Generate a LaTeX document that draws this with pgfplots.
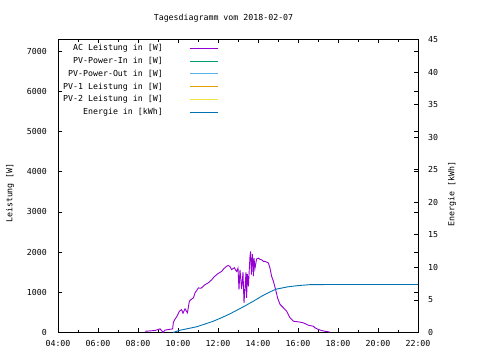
\documentclass[border=0pt]{standalone}
\usepackage{pgfplots}
\pgfplotsset{compat=1.18}
\usepackage{fontspec}
\setmainfont{DejaVu Sans Mono}
\definecolor{cAC}{HTML}{9400D3}
\definecolor{cIn}{HTML}{009E73}
\definecolor{cOut}{HTML}{56B4E9}
\definecolor{cPVa}{HTML}{E69F00}
\definecolor{cPVb}{HTML}{F0E442}
\definecolor{cEn}{HTML}{0072B2}
\newcommand{\gf}{\fontsize{8.3}{10}\selectfont}
\begin{document}
\begin{tikzpicture}
\path[use as bounding box] (0bp,0bp) rectangle (480bp,360bp);
\begin{axis}[
  at={(58bp,27.5bp)}, anchor=south west,
  width=360bp, height=293bp, scale only axis,
  xmin=4, xmax=22, ymin=0, ymax=7290,
  xtick={4,6,...,22},
  xticklabels={04:00,06:00,08:00,10:00,12:00,14:00,16:00,18:00,20:00,22:00},
  minor x tick num=1,
  ytick={0,1000,...,7000},
  tick align=inside,
  major tick length=4bp, minor tick length=2.5bp,
  every tick/.style={black, line width=0.8bp},
  axis line style={line width=0.8bp},
  tick label style={font=\gf, inner sep=0pt},
  xticklabel shift=8bp,
  yticklabel shift=11bp,
  /pgf/number format/assume math mode=true,
  /pgf/number format/1000 sep={},
  legend plot pos=right,
  legend cell align=right,
  legend style={draw=none, fill=none, font=\gf, inner sep=0pt,
    at={(axis description cs:0.014,0.986)}, anchor=north west,
    row sep=4.4bp,
    nodes={inner sep=0pt, text height=6.5bp, text depth=2bp}},
  legend image code/.code={\path (0bp,0bp); \draw[#1] (27bp,0bp) -- (55bp,0bp);},
]
\addplot[color=cAC, line width=0.9bp] coordinates {
(8.35,30) (8.6,40) (8.85,50) (9.1,90) (9.2,40) (9.25,0) (9.35,60) (9.6,80) (9.73,90)
(9.77,255) (9.85,330) (9.93,390) (10.07,530) (10.18,570) (10.25,480) (10.35,590)
(10.47,490) (10.57,780) (10.65,820) (10.77,860) (10.85,985) (11.02,1110) (11.15,1100)
(11.35,1190) (11.5,1230) (11.68,1310) (11.8,1380) (11.93,1440) (12.05,1480) (12.18,1520)
(12.3,1590) (12.43,1650) (12.52,1665) (12.6,1640) (12.68,1565) (12.75,1590) (12.82,1610)
(12.87,1560) (12.93,1520) (13.0,1600) (13.05,1070) (13.1,1560) (13.18,1080) (13.25,1500)
(13.3,740) (13.35,1100) (13.4,1500) (13.43,860) (13.47,1450) (13.52,1150) (13.6,1900)
(13.63,2020) (13.67,1440) (13.72,1950) (13.77,1400) (13.8,1850) (13.85,1600) (13.93,1830)
(14.02,1850) (14.1,1820) (14.18,1810) (14.27,1770) (14.35,1770) (14.52,1730) (14.6,1600)
(14.68,1400) (14.77,1275) (14.88,1070) (14.98,860) (15.1,700) (15.27,615) (15.43,530)
(15.6,365) (15.77,280) (16.02,265) (16.27,240) (16.52,180) (16.77,155) (16.85,115)
(17.02,75) (17.18,50) (17.35,30) (17.6,10)
};
\addlegendentry{AC Leistung in [W]}
\addlegendimage{color=cIn, line width=0.9bp}
\addlegendentry{PV-Power-In in [W]}
\addlegendimage{color=cOut, line width=0.9bp}
\addlegendentry{PV-Power-Out in [W]}
\addlegendimage{color=cPVa, line width=0.9bp}
\addlegendentry{PV-1 Leistung in [W]}
\addlegendimage{color=cPVb, line width=0.9bp}
\addlegendentry{PV-2 Leistung in [W]}
\addlegendimage{color=cEn, line width=0.9bp}
\addlegendentry{Energie in [kWh]}
\end{axis}
\begin{axis}[
  at={(58bp,27.5bp)}, anchor=south west,
  width=360bp, height=293bp, scale only axis,
  xmin=4, xmax=22, ymin=0, ymax=45,
  axis x line=none, axis y line*=right,
  ytick={0,5,...,45},
  tick align=inside,
  major tick length=4bp,
  every tick/.style={black, line width=0.8bp},
  axis line style={line width=0.8bp},
  tick label style={font=\gf, inner sep=0pt},
  yticklabel shift=10bp,
  /pgf/number format/assume math mode=true,
]
\addplot[color=cEn, line width=0.9bp] coordinates {
(9.75,0) (10.1,0.35) (10.5,0.6) (10.93,0.88) (11.35,1.3) (11.77,1.74) (12.2,2.3)
(12.6,2.87) (13.27,3.95) (13.77,4.81) (14.27,5.73) (14.65,6.3) (14.9,6.65) (15.5,7.02)
(16.0,7.2) (16.6,7.35) (17.6,7.37) (22,7.37)
};
\end{axis}
\node[font=\gf] at (223.5bp,342bp) {Tagesdiagramm vom 2018-02-07};
\node[font=\gf, rotate=90] at (10bp,167bp) {Leistung [W]};
\node[font=\gf, rotate=90] at (452bp,166bp) {Energie [kWh]};
\end{tikzpicture}
\end{document}
